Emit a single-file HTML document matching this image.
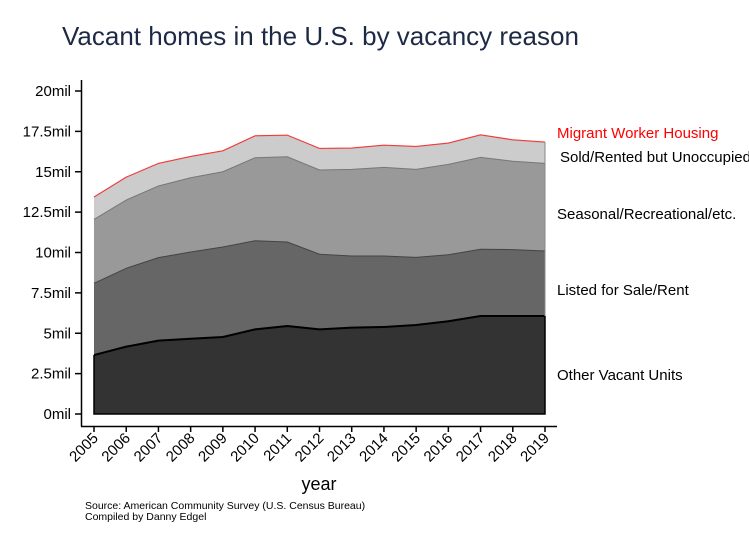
<!DOCTYPE html>
<html><head><meta charset="utf-8"><style>
body{margin:0;background:#fff;font-family:"Liberation Sans",Arial,sans-serif}
svg{display:block}
</style></head><body>
<svg id="chart" width="749" height="545">
<rect width="749" height="545" fill="#fff"/>
<text x="62" y="45" font-size="26" fill="#1e2a45">Vacant homes in the U.S. by vacancy reason</text>
<g id="plot"></g>
<text x="319" y="490" font-size="18" text-anchor="middle" fill="#000">year</text>
<text x="85" y="509" font-size="10.5" fill="#000">Source: American Community Survey (U.S. Census Bureau)</text>
<text x="85" y="520" font-size="10.5" fill="#000">Compiled by Danny Edgel</text>
</svg>
<script>
const years=[2005,2006,2007,2008,2009,2010,2011,2012,2013,2014,2015,2016,2017,2018,2019];
const otherVacant=[3.65,4.17,4.54,4.66,4.77,5.24,5.45,5.24,5.35,5.39,5.51,5.74,6.07,6.07,6.07];
const listedForSale=[4.44,4.85,5.14,5.37,5.57,5.49,5.20,4.65,4.43,4.39,4.19,4.12,4.13,4.11,4.02];
const seasonal=[3.96,4.23,4.44,4.60,4.66,5.14,5.28,5.22,5.37,5.49,5.45,5.60,5.69,5.47,5.43];
const soldRented=[1.37,1.40,1.38,1.30,1.28,1.34,1.32,1.32,1.30,1.36,1.40,1.30,1.38,1.31,1.30];
const migrant=[0.02,0.02,0.02,0.02,0.02,0.02,0.02,0.02,0.02,0.02,0.02,0.02,0.02,0.02,0.02];
const yTicks=[0,2.5,5,7.5,10,12.5,15,17.5,20];
const yTickLabels=["0mil","2.5mil","5mil","7.5mil","10mil","12.5mil","15mil","17.5mil","20mil"];
const seriesNames=["Other Vacant Units","Listed for Sale/Rent","Seasonal/Recreational/etc.","Sold/Rented but Unoccupied","Migrant Worker Housing"];

const NS="http://www.w3.org/2000/svg";
const g=document.getElementById('plot');
const X=yr=>94+(yr-2005)*(545-94)/14;
const Y=v=>414-v*(414-91)/20;
function mk(t,a){const e=document.createElementNS(NS,t);for(const k in a)e.setAttribute(k,a[k]);g.appendChild(e);return e;}
const ya=mk('line',{x1:81.5,y1:80,x2:81.5,y2:426.5,stroke:'#000','stroke-width':1.5});


const xa=mk('line',{x1:81,y1:426.5,x2:557,y2:426.5,stroke:'#000','stroke-width':1.5});


yTicks.forEach((v,i)=>{
  mk('line',{x1:75,y1:Y(v),x2:81,y2:Y(v),stroke:'#000','stroke-width':1.5});
  const t=mk('text',{x:71,y:Y(v)+5,'font-size':15,'text-anchor':'end',fill:'#000'});
  t.textContent=yTickLabels[i];
  
  
});
years.forEach(yr=>{
  mk('line',{x1:X(yr),y1:426,x2:X(yr),y2:432,stroke:'#000','stroke-width':1.5});
  const t=mk('text',{x:0,y:0,'font-size':15,'text-anchor':'end',fill:'#000',transform:`translate(${X(yr)+5},${439}) rotate(-45)`});
  t.textContent=yr;
  
  
});
const layers=[otherVacant,listedForSale,seasonal,soldRented,migrant];
const fills=['#333333','#666666','#999999','#cccccc','#cccccc'];
const strokes=['#000','#444','#777','#aaa','#ff3030'];
const labelColors=['#000','#000','#000','#000','#ff0000'];
const labelY=[380,295,219,162,138];
let base=years.map(()=>0);
const tops=[];
layers.forEach((arr,li)=>{
  const top=base.map((b,i)=>b+arr[i]);
  let d='M'+years.map((yr,i)=>X(yr)+','+Y(top[i])).join(' L');
  for(let i=years.length-1;i>=0;i--)d+=' L'+X(years[i])+','+Y(base[i]);
  d+='Z';
  const p=mk('path',{d,fill:fills[li],stroke:'none'});
  
  
  tops.push({top,base:base.slice()});
  base=top;
});
tops.forEach((o,li)=>{
  const d='M'+years.map((yr,i)=>X(yr)+','+Y(o.top[i])).join(' L');
  mk('path',{d,fill:'none',stroke:strokes[li],'stroke-width':li==0?2:1});
  const t=mk('text',{x:li==3?560:557,y:labelY[li],'font-size':15,fill:labelColors[li]});
  t.textContent=seriesNames[li];
  
  
});
mk('path',{d:`M${X(2005)},${Y(otherVacant[0])} L${X(2005)},${Y(0)} L${X(2019)},${Y(0)} L${X(2019)},${Y(otherVacant[14])}`,fill:'none',stroke:'#000','stroke-width':1.5});
mk('line',{x1:X(2019),y1:Y(otherVacant[14]),x2:X(2019),y2:Y(base[14]),stroke:'#888','stroke-width':1});
</script>
</body></html>
